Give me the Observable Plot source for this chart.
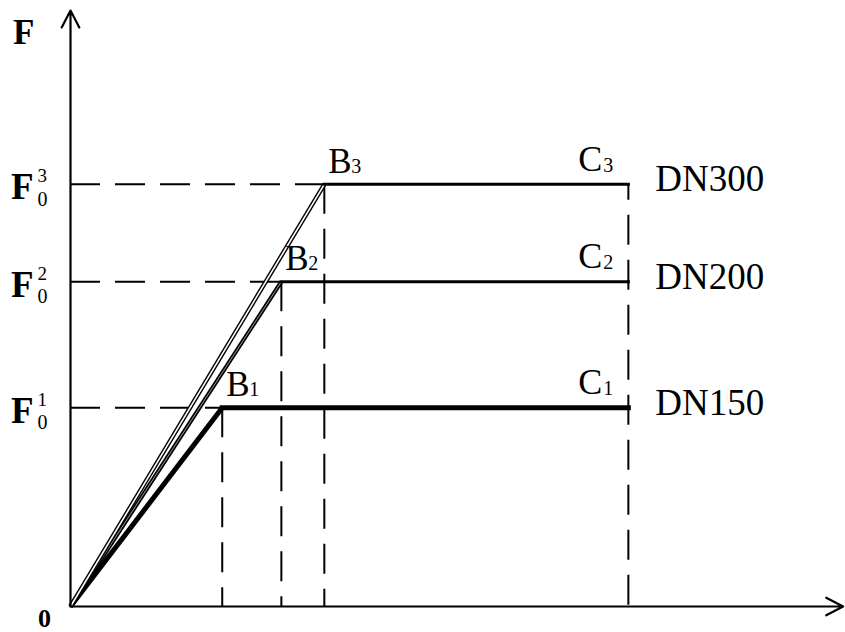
<!DOCTYPE html>
<html>
<head>
<meta charset="utf-8">
<script src="https://cdn.jsdelivr.net/npm/d3@7"></script>
<script src="https://cdn.jsdelivr.net/npm/@observablehq/plot@0.6"></script>
<style>
  html, body { margin: 0; padding: 0; background: #fff; }
  svg { display: block; }
</style>
</head>
<body>
<div id="chart"></div>
<script>
// ---- data ----
const series = ["DN150", "DN200", "DN300"];   // pipe sizes
const indices = ["1", "2", "3"];              // curve indices (sub/superscripts)
const yieldForce = [2.0, 3.27, 4.25];         // F0^i levels
const yieldDisp = [2.72, 3.78, 4.55];         // x of B_i
const endDisp = 10;                           // x of C_i
const axisEnd = {x: 13.85, y: 6.0};
const axisTitle = "F";
const originLabel = "0";

const rows = series.map((s, i) => ({series: s, idx: indices[i], F: yieldForce[i], B: yieldDisp[i]}));

const font = "Liberation Serif, Times New Roman, serif";
const dash = "30,15";

const styles = {
  DN150: {slant: 5, flat: 5, hollow: 0},
  DN200: {slant: 4.2, flat: 3, hollow: 0.6},
  DN300: {slant: 4.4, flat: 3, hollow: 1.6}
};

const marks = [];

// dashed guides
marks.push(Plot.ruleY(rows, {y: "F", x1: 0, x2: "B", stroke: "black", strokeWidth: 2, strokeDasharray: dash}));
marks.push(Plot.ruleX(rows, {x: "B", y1: "F", y2: 0, stroke: "black", strokeWidth: 2, strokeDasharray: dash}));
marks.push(Plot.ruleX([endDisp], {x: d => d, y1: d3.max(yieldForce), y2: 0, stroke: "black", strokeWidth: 2, strokeDasharray: dash, strokeDashoffset: 14}));

// curves
for (const r of rows) {
  const st = styles[r.series];
  marks.push(Plot.link([r], {x1: 0, y1: 0, x2: "B", y2: "F", stroke: "black", strokeWidth: st.slant}));
  if (st.hollow) marks.push(Plot.link([r], {x1: 0, y1: 0, x2: "B", y2: "F", stroke: "white", strokeWidth: st.hollow}));
  marks.push(Plot.link([r], {x1: "B", y1: "F", x2: endDisp, y2: "F", stroke: "black", strokeWidth: st.flat, strokeLinecap: "square"}));
}

// axes with arrows
marks.push(Plot.arrow([axisEnd], {x1: 0, y1: 0, x2: 0, y2: "y", stroke: "black", strokeWidth: 2.2, headLength: 13, headAngle: 55}));
marks.push(Plot.arrow([axisEnd], {x1: 0, y1: 0, x2: "x", y2: 0, stroke: "black", strokeWidth: 2.2, headLength: 13, headAngle: 55}));

// axis labels
marks.push(Plot.text([axisEnd], {x: 0, y: "y", text: () => axisTitle, textAnchor: "end", dx: -36, dy: 22, fontSize: 35, fontWeight: "bold", fontFamily: font, fill: "black"}));
marks.push(Plot.text([0], {x: 0, y: 0, text: () => originLabel, textAnchor: "middle", dx: -26, dy: 12, fontSize: 26, fontWeight: "bold", fontFamily: font, fill: "black"}));

// F0^i labels on the y axis
marks.push(Plot.text(rows, {x: 0, y: "F", text: () => "F", textAnchor: "end", dx: -37, dy: 3, fontSize: 37, fontWeight: "bold", fontFamily: font, fill: "black"}));
marks.push(Plot.text(rows, {x: 0, y: "F", text: "idx", textAnchor: "start", dx: -33, dy: -8, fontSize: 19, fontFamily: font, fill: "black"}));
marks.push(Plot.text(rows, {x: 0, y: "F", text: () => "0", textAnchor: "start", dx: -33, dy: 15, fontSize: 20, fontFamily: font, fill: "black"}));

// B_i labels
marks.push(Plot.text(rows, {x: "B", y: "F", text: () => "B", textAnchor: "start", dx: 4, dy: -23, fontSize: 35, fontFamily: font, fill: "black"}));
marks.push(Plot.text(rows, {x: "B", y: "F", text: "idx", textAnchor: "start", dx: 27, dy: -18, fontSize: 20, fontFamily: font, fill: "black"}));

// C_i labels
marks.push(Plot.text(rows, {x: endDisp, y: "F", text: () => "C", textAnchor: "start", dx: -50, dy: -25, fontSize: 36, fontFamily: font, fill: "black"}));
marks.push(Plot.text(rows, {x: endDisp, y: "F", text: "idx", textAnchor: "start", dx: -25, dy: -19, fontSize: 20, fontFamily: font, fill: "black"}));

// DN series names
marks.push(Plot.text(rows, {x: endDisp, y: "F", text: "series", textAnchor: "start", dx: 27, dy: -5, fontSize: 37, fontFamily: font, fill: "black"}));

const chart = Plot.plot({
  width: 845,
  height: 632,
  margin: 0,
  x: {domain: [0, 14], range: [70, 851], axis: null},
  y: {domain: [0, 6], range: [606, 10], axis: null},
  style: {background: "white", overflow: "visible"},
  marks
});
document.getElementById("chart").appendChild(chart);
</script>
</body>
</html>
